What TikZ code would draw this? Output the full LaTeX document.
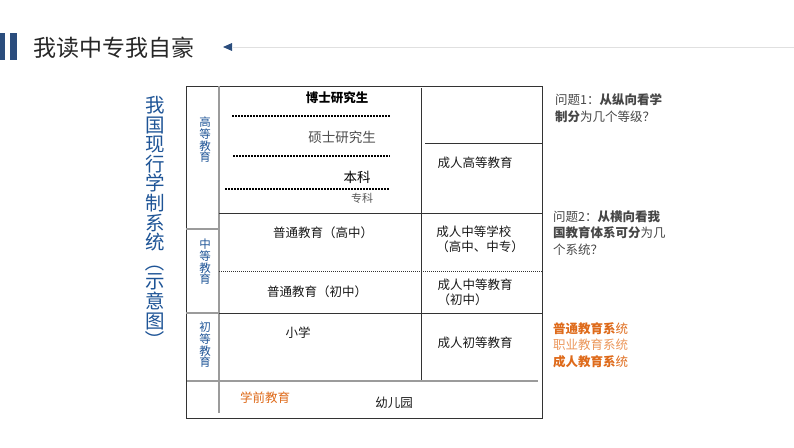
\documentclass[tikz,border=0pt]{standalone}
\usepackage{fontspec}
\setmainfont{Noto Sans CJK SC}
\usepackage{xcolor}
\usepackage{graphicx}
\usepackage{tikz}
\usetikzlibrary{arrows.meta}

\definecolor{barblue}{RGB}{43,77,125}
\definecolor{labelblue}{RGB}{30,84,150}
\definecolor{sysorange}{RGB}{222,106,26}
\definecolor{sysorangelt}{RGB}{235,150,90}
\definecolor{rulegray}{RGB}{155,155,155}
\definecolor{textgray}{RGB}{70,70,70}

\newcommand{\vparen}[1]{\rotatebox[origin=c]{-90}{#1}}

\begin{document}
\begin{tikzpicture}[x=1pt, y=-1pt,
    cell/.style={font=\fontsize{12.5}{15}\selectfont, align=center, inner sep=0pt, text=black!90},
    degree/.style={font=\fontsize{13.5}{15}\selectfont, inner sep=0pt},
    levellabel/.style={font=\fontsize{11.5}{11.7}\selectfont, labelblue, align=center, inner sep=0pt},
    question/.style={font=\fontsize{12.5}{16.5}\selectfont, align=left, anchor=west, inner sep=0pt, text=textgray},
    frame/.style={draw=black!80, line width=0.8pt},
    grayrule/.style={draw=rulegray, line width=1.3pt},
    dotrule/.style={line width=1.7pt, dash pattern=on 1.5pt off 1.5pt},
]
    \useasboundingbox (0,0) rectangle (794,447);

    % Title bar
    \fill[barblue] (0,33) rectangle (5,60);
    \fill[barblue] (10,33) rectangle (17,60);
    \node[font=\fontsize{23}{25}\selectfont, text=black!85, anchor=west, inner sep=0pt] (title) at (33,48) {我读中专我自豪};
    \fill[barblue] (223,47) -- (232,43) -- (232,51) -- cycle;
    \draw[black!12, line width=0.8pt] (233,47) -- (794,47);

    % Vertical heading
    \node[font=\fontsize{19.5}{19.6}\selectfont, labelblue, align=center, inner sep=0pt, anchor=north] (heading) at (155,96)
        {我\\国\\现\\行\\学\\制\\系\\统\\\vparen{（}\\示\\意\\图\\\vparen{）}};

    % Table frame
    \draw[frame] (186,86) rectangle (542,418);
    \draw[grayrule] (219,86) -- (219,413);
    \draw[frame] (421,88) -- (421,381);
    \draw[frame] (425,143) -- (542,143);
    \draw[frame] (219,213) -- (542,213);
    \draw[grayrule] (186,229) -- (219,229);
    \draw[black!80, line width=0.7pt, dash pattern=on 1pt off 1pt] (219,271) -- (542,271);
    \draw[grayrule] (186,313) -- (219,313);
    \draw[frame] (219,313) -- (542,313);
    \draw[grayrule] (187,381) -- (538,381);

    % Dotted separators of higher education
    \draw[dotrule] (232,116) -- (390,116);
    \draw[dotrule] (233,156) -- (390,156);
    \draw[dotrule, line width=1.2pt] (225,189) -- (390,189);

    % Level labels
    \node[levellabel] (higher) at (205,140) {高\\等\\教\\育};
    \node[levellabel] (middle) at (205,262) {中\\等\\教\\育};
    \node[levellabel] (primary) at (205,345) {初\\等\\教\\育};

    % General education column
    \node[degree, font=\bfseries\fontsize{12.5}{15}\selectfont] (phd) at (337,98) {博士研究生};
    \node[degree, text=black!70] (master) at (342,137) {硕士研究生};
    \node[degree] (bachelor) at (357,177) {本科};
    \node[degree, font=\fontsize{11}{13}\selectfont, text=black!65] (college) at (362,198) {专科};
    \node[cell] (senior) at (323,233) {普通教育（高中）};
    \node[cell] (junior) at (317,292) {普通教育（初中）};
    \node[cell] (elementary) at (298,333) {小学};
    \node[cell, text=sysorange] (preschool) at (265,398) {学前教育};
    \node[cell] (kinder) at (394,403) {幼儿园};

    % Adult education column
    \node[cell] (adulthigh) at (475,163) {成人高等教育};
    \node[cell, align=left] (adultsec) at (480,239) {成人中等学校\\（高中、中专）};
    \node[cell, align=left] (adultmid) at (475,292) {成人中等教育\\（初中）};
    \node[cell] (adultpri) at (475,343) {成人初等教育};

    % Questions
    \node[question] (qone) at (555,108) {问题1：\textbf{从纵向看学}\\\textbf{制分}为几个等级？};
    \node[question] (qtwo) at (553,233) {问题2：\textbf{从横向看我}\\\textbf{国教育体系可分}为几\\个系统？};
    \node[question, text=sysorange] (systems) at (553,345)
        {\textbf{普通教育系}统\\\textcolor{sysorangelt}{职业教育系统}\\\textbf{成人教育系}统};
\end{tikzpicture}
\end{document}
